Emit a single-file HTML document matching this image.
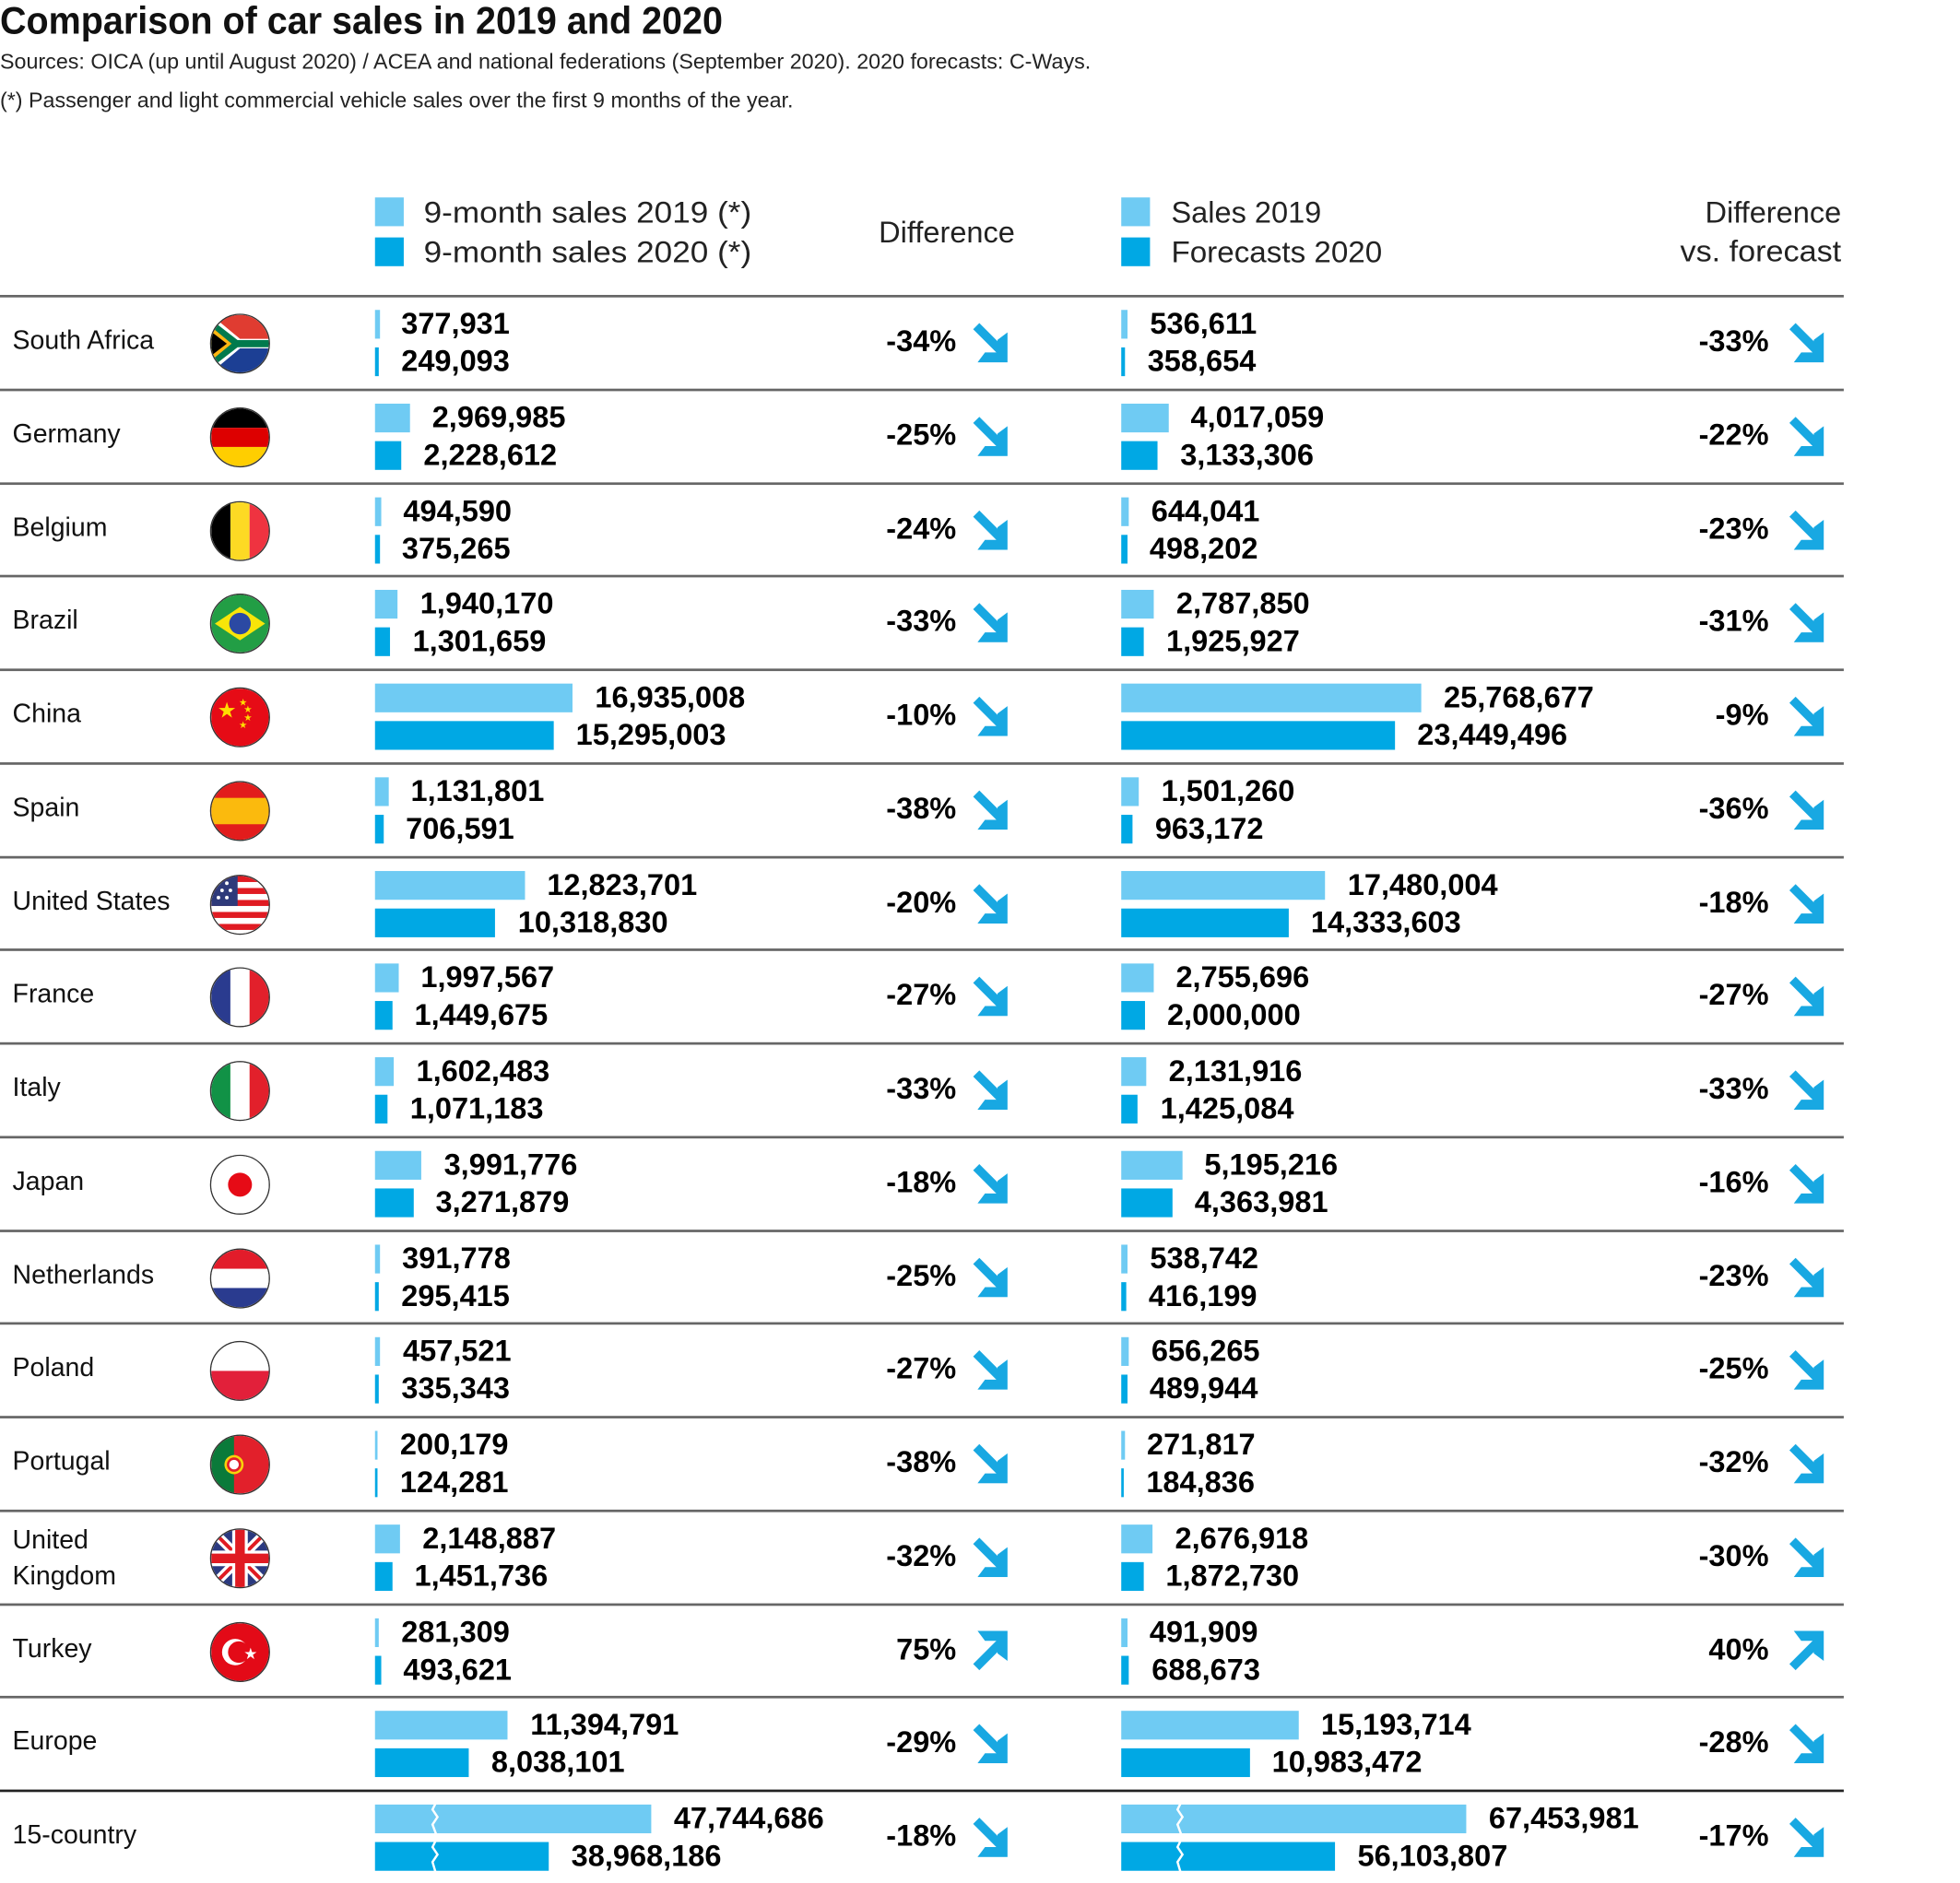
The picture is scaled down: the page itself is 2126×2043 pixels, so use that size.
<!DOCTYPE html>
<html><head><meta charset="utf-8"><style>
html,body{margin:0;padding:0;background:#fff;}
body{width:2126px;height:2043px;overflow:hidden;position:relative;}
#w{position:absolute;left:0;top:0;width:1568px;height:1507px;transform:scale(1.35587);transform-origin:0 0;font-family:"Liberation Sans",sans-serif;color:#111;}
.t{position:absolute;white-space:nowrap;}
.r{position:absolute;left:0;width:1568px;height:75px;border-top:2px solid #666;box-sizing:border-box;}
.r>*{position:absolute;white-space:nowrap;}
.nm{left:10px;top:22px;font-size:21px;line-height:26px;}
.fl{left:168px;top:13px;width:46px;height:46px;border-radius:50%;overflow:hidden;border:1px solid #333;}
.fl svg{display:block;width:46px;height:46px;}
.b1,.c1{top:10px;height:23px;background:#6fcbf3;}
.b2,.c2{top:40px;height:23px;background:#00a8e4;}
.b1,.b2{left:300px;}
.c1,.c2{left:897px;}
b{font-size:24px;line-height:28px;font-weight:bold;color:#000;}
.n1{top:8px;}
.n2{top:38px;}
.p1{right:710px;top:22px;text-align:right;}
.q1{right:60px;top:22px;text-align:right;}
.ar{top:20px;width:32px;height:32px;}
.a1{left:776px;}
.a2{left:1429px;}
.lg{position:absolute;width:23px;height:23px;}
.lt{position:absolute;font-size:24px;line-height:30px;color:#222;white-space:nowrap;}
</style></head><body><div id="w">
<svg width="0" height="0" style="position:absolute"><defs>
<g id="dn"><path d="M5 3 L25 23" stroke="#18a8e2" stroke-width="7" fill="none"/><path d="M30 8 L30 32 L6 32 L12 24 L22 24 L22 14 Z" fill="#18a8e2"/></g>
<g id="up"><path d="M5 29 L25 9" stroke="#18a8e2" stroke-width="7" fill="none"/><path d="M30 24 L30 0 L6 0 L12 8 L22 8 L22 18 Z" fill="#18a8e2"/></g>
</defs></svg>

<div class="t" style="left:0;top:-2px;font-size:31px;font-weight:bold;line-height:38px;transform:scaleX(0.94);transform-origin:0 0;">Comparison of car sales in 2019 and 2020</div>
<div class="t" style="left:0;top:38px;font-size:17px;line-height:24px;color:#222;transform:scaleX(1.01);transform-origin:0 0;">Sources: OICA (up until August 2020) / ACEA and national federations (September 2020). 2020 forecasts: C-Ways.</div>
<div class="t" style="left:0;top:69px;font-size:17px;line-height:24px;color:#222;transform:scaleX(1.01);transform-origin:0 0;">(*) Passenger and light commercial vehicle sales over the first 9 months of the year.</div>

<div class="lg" style="left:300px;top:158px;background:#6fcbf3"></div>
<div class="lg" style="left:300px;top:190px;background:#00a8e4"></div>
<div class="lt" style="left:339px;top:156px;transform:scaleX(1.08);transform-origin:0 0;">9-month sales 2019 (*)</div>
<div class="lt" style="left:339px;top:188px;transform:scaleX(1.08);transform-origin:0 0;">9-month sales 2020 (*)</div>
<div class="lt" style="left:703px;top:172px;">Difference</div>
<div class="lg" style="left:897px;top:158px;background:#6fcbf3"></div>
<div class="lg" style="left:897px;top:190px;background:#00a8e4"></div>
<div class="lt" style="left:937px;top:156px;">Sales 2019</div>
<div class="lt" style="left:937px;top:188px;transform:scaleX(1.02);transform-origin:0 0;">Forecasts 2020</div>
<div class="lt" style="left:1250px;width:223px;text-align:right;top:156px;">Difference</div>
<div class="lt" style="left:1250px;width:223px;text-align:right;top:187px;transform:scaleX(1.05);transform-origin:100% 0;">vs. forecast</div>

<!-- South Africa -->
<div class="r" style="top:236px;width:1475px"><div class="nm">South Africa</div>
<div class="fl"><svg viewBox="0 0 48 48"><rect width="48" height="24" fill="#e03c31"/><rect y="24" width="48" height="24" fill="#1c3f94"/><path d="M0 0 L24 20 H48 V28 H24 L0 48 Z" fill="#fff"/><path d="M0 4 L22 21 H48 V27 H22 L0 44 Z" fill="#007a4d"/><path d="M0 10 L17 24 L0 38 Z" fill="#ffb612"/><path d="M0 14 L13 24 L0 34 Z" fill="#000"/></svg></div>
<i class="b1" style="width:3.5px"></i><i class="b2" style="width:3px"></i><b class="n1" style="left:321px">377,931</b><b class="n2" style="left:321px">249,093</b>
<b class="p1">-34%</b><svg class="ar a1" viewBox="0 0 32 32"><use href="#dn"/></svg>
<i class="c1" style="width:5px"></i><i class="c2" style="width:3.3px"></i><b class="n1" style="left:920px">536,611</b><b class="n2" style="left:918px">358,654</b>
<b class="q1">-33%</b><svg class="ar a2" viewBox="0 0 32 32"><use href="#dn"/></svg></div>

<!-- Germany -->
<div class="r" style="top:310.75px;width:1475px"><div class="nm">Germany</div>
<div class="fl"><svg viewBox="0 0 48 48"><rect width="48" height="16" fill="#000"/><rect y="16" width="48" height="16" fill="#dd0000"/><rect y="32" width="48" height="16" fill="#ffce00"/></svg></div>
<i class="b1" style="width:27.7px"></i><i class="b2" style="width:20.8px"></i><b class="n1" style="left:345.7px">2,969,985</b><b class="n2" style="left:338.8px">2,228,612</b>
<b class="p1">-25%</b><svg class="ar a1" viewBox="0 0 32 32"><use href="#dn"/></svg>
<i class="c1" style="width:37.5px"></i><i class="c2" style="width:29.2px"></i><b class="n1" style="left:952.5px">4,017,059</b><b class="n2" style="left:944.2px">3,133,306</b>
<b class="q1">-22%</b><svg class="ar a2" viewBox="0 0 32 32"><use href="#dn"/></svg></div>

<!-- Belgium -->
<div class="r" style="top:385.5px;width:1475px"><div class="nm">Belgium</div>
<div class="fl"><svg viewBox="0 0 48 48"><rect width="16" height="48" fill="#000"/><rect x="16" width="16" height="48" fill="#fdda24"/><rect x="32" width="16" height="48" fill="#ef3340"/></svg></div>
<i class="b1" style="width:4.6px"></i><i class="b2" style="width:3.5px"></i><b class="n1" style="left:322.6px">494,590</b><b class="n2" style="left:321.5px">375,265</b>
<b class="p1">-24%</b><svg class="ar a1" viewBox="0 0 32 32"><use href="#dn"/></svg>
<i class="c1" style="width:6px"></i><i class="c2" style="width:4.6px"></i><b class="n1" style="left:921px">644,041</b><b class="n2" style="left:919.6px">498,202</b>
<b class="q1">-23%</b><svg class="ar a2" viewBox="0 0 32 32"><use href="#dn"/></svg></div>

<!-- Brazil -->
<div class="r" style="top:460.25px;width:1475px"><div class="nm">Brazil</div>
<div class="fl"><svg viewBox="0 0 48 48"><rect width="48" height="48" fill="#229e45"/><path d="M3 24 L24 10 L45 24 L24 38 Z" fill="#f8e509"/><circle cx="24" cy="24" r="9" fill="#2b49a3"/></svg></div>
<i class="b1" style="width:18.1px"></i><i class="b2" style="width:12.1px"></i><b class="n1" style="left:336.1px">1,940,170</b><b class="n2" style="left:330.1px">1,301,659</b>
<b class="p1">-33%</b><svg class="ar a1" viewBox="0 0 32 32"><use href="#dn"/></svg>
<i class="c1" style="width:26px"></i><i class="c2" style="width:18px"></i><b class="n1" style="left:941px">2,787,850</b><b class="n2" style="left:933px">1,925,927</b>
<b class="q1">-31%</b><svg class="ar a2" viewBox="0 0 32 32"><use href="#dn"/></svg></div>

<!-- China -->
<div class="r" style="top:535px;width:1475px"><div class="nm">China</div>
<div class="fl"><svg viewBox="0 0 48 48"><rect width="48" height="48" fill="#e60b16"/><text x="5" y="24" font-size="18" fill="#ffde00" font-family="DejaVu Sans">★</text><text x="23" y="14" font-size="8" fill="#ffde00" font-family="DejaVu Sans">★</text><text x="27" y="20" font-size="8" fill="#ffde00" font-family="DejaVu Sans">★</text><text x="27" y="27" font-size="8" fill="#ffde00" font-family="DejaVu Sans">★</text><text x="23" y="33" font-size="8" fill="#ffde00" font-family="DejaVu Sans">★</text></svg></div>
<i class="b1" style="width:158px"></i><i class="b2" style="width:142.7px"></i><b class="n1" style="left:476px">16,935,008</b><b class="n2" style="left:460.7px">15,295,003</b>
<b class="p1">-10%</b><svg class="ar a1" viewBox="0 0 32 32"><use href="#dn"/></svg>
<i class="c1" style="width:240px"></i><i class="c2" style="width:218.8px"></i><b class="n1" style="left:1155px">25,768,677</b><b class="n2" style="left:1133.8px">23,449,496</b>
<b class="q1">-9%</b><svg class="ar a2" viewBox="0 0 32 32"><use href="#dn"/></svg></div>

<!-- Spain -->
<div class="r" style="top:609.75px;width:1475px"><div class="nm">Spain</div>
<div class="fl"><svg viewBox="0 0 48 48"><rect width="48" height="48" fill="#e21c1c"/><rect y="13" width="48" height="22" fill="#fbba0d"/></svg></div>
<i class="b1" style="width:10.6px"></i><i class="b2" style="width:6.6px"></i><b class="n1" style="left:328.6px">1,131,801</b><b class="n2" style="left:324.6px">706,591</b>
<b class="p1">-38%</b><svg class="ar a1" viewBox="0 0 32 32"><use href="#dn"/></svg>
<i class="c1" style="width:14px"></i><i class="c2" style="width:9px"></i><b class="n1" style="left:929px">1,501,260</b><b class="n2" style="left:924px">963,172</b>
<b class="q1">-36%</b><svg class="ar a2" viewBox="0 0 32 32"><use href="#dn"/></svg></div>

<!-- United States -->
<div class="r" style="top:684.5px;width:1475px"><div class="nm">United States</div>
<div class="fl"><svg viewBox="0 0 48 48"><rect width="48" height="48" fill="#fff"/><rect y="0" width="48" height="5" fill="#e01b22"/><rect y="10" width="48" height="5" fill="#e01b22"/><rect y="20" width="48" height="5" fill="#e01b22"/><rect y="30" width="48" height="5" fill="#e01b22"/><rect y="40" width="48" height="5" fill="#e01b22"/><rect width="22" height="25" fill="#2e3a7a"/><g fill="#fff"><circle cx="6" cy="6" r="1.5"/><circle cx="13" cy="6" r="1.5"/><circle cx="9" cy="12" r="1.5"/><circle cx="16" cy="12" r="1.5"/><circle cx="6" cy="18" r="1.5"/><circle cx="13" cy="18" r="1.5"/></g></svg></div>
<i class="b1" style="width:119.6px"></i><i class="b2" style="width:96.3px"></i><b class="n1" style="left:437.6px">12,823,701</b><b class="n2" style="left:414.3px">10,318,830</b>
<b class="p1">-20%</b><svg class="ar a1" viewBox="0 0 32 32"><use href="#dn"/></svg>
<i class="c1" style="width:163.1px"></i><i class="c2" style="width:133.7px"></i><b class="n1" style="left:1078.1px">17,480,004</b><b class="n2" style="left:1048.7px">14,333,603</b>
<b class="q1">-18%</b><svg class="ar a2" viewBox="0 0 32 32"><use href="#dn"/></svg></div>

<!-- France -->
<div class="r" style="top:759.25px;width:1475px"><div class="nm">France</div>
<div class="fl"><svg viewBox="0 0 48 48"><rect width="16" height="48" fill="#2a3b8f"/><rect x="16" width="16" height="48" fill="#fff"/><rect x="32" width="16" height="48" fill="#e2202b"/></svg></div>
<i class="b1" style="width:18.6px"></i><i class="b2" style="width:13.5px"></i><b class="n1" style="left:336.6px">1,997,567</b><b class="n2" style="left:331.5px">1,449,675</b>
<b class="p1">-27%</b><svg class="ar a1" viewBox="0 0 32 32"><use href="#dn"/></svg>
<i class="c1" style="width:25.7px"></i><i class="c2" style="width:18.7px"></i><b class="n1" style="left:940.7px">2,755,696</b><b class="n2" style="left:933.7px">2,000,000</b>
<b class="q1">-27%</b><svg class="ar a2" viewBox="0 0 32 32"><use href="#dn"/></svg></div>

<!-- Italy -->
<div class="r" style="top:834px;width:1475px"><div class="nm">Italy</div>
<div class="fl"><svg viewBox="0 0 48 48"><rect width="16" height="48" fill="#119246"/><rect x="16" width="16" height="48" fill="#fff"/><rect x="32" width="16" height="48" fill="#e2202b"/></svg></div>
<i class="b1" style="width:15px"></i><i class="b2" style="width:10px"></i><b class="n1" style="left:333px">1,602,483</b><b class="n2" style="left:328px">1,071,183</b>
<b class="p1">-33%</b><svg class="ar a1" viewBox="0 0 32 32"><use href="#dn"/></svg>
<i class="c1" style="width:19.9px"></i><i class="c2" style="width:13.3px"></i><b class="n1" style="left:934.9px">2,131,916</b><b class="n2" style="left:928.3px">1,425,084</b>
<b class="q1">-33%</b><svg class="ar a2" viewBox="0 0 32 32"><use href="#dn"/></svg></div>

<!-- Japan -->
<div class="r" style="top:908.75px;width:1475px"><div class="nm">Japan</div>
<div class="fl"><svg viewBox="0 0 48 48"><rect width="48" height="48" fill="#fff"/><circle cx="24" cy="24" r="10" fill="#e60b16"/></svg></div>
<i class="b1" style="width:37.2px"></i><i class="b2" style="width:30.5px"></i><b class="n1" style="left:355.2px">3,991,776</b><b class="n2" style="left:348.5px">3,271,879</b>
<b class="p1">-18%</b><svg class="ar a1" viewBox="0 0 32 32"><use href="#dn"/></svg>
<i class="c1" style="width:48.5px"></i><i class="c2" style="width:40.7px"></i><b class="n1" style="left:963.5px">5,195,216</b><b class="n2" style="left:955.7px">4,363,981</b>
<b class="q1">-16%</b><svg class="ar a2" viewBox="0 0 32 32"><use href="#dn"/></svg></div>

<!-- Netherlands -->
<div class="r" style="top:983.5px;width:1475px"><div class="nm">Netherlands</div>
<div class="fl"><svg viewBox="0 0 48 48"><rect width="48" height="16" fill="#e21c2a"/><rect y="16" width="48" height="16" fill="#fff"/><rect y="32" width="48" height="16" fill="#2a3b8f"/></svg></div>
<i class="b1" style="width:3.7px"></i><i class="b2" style="width:3px"></i><b class="n1" style="left:321.7px">391,778</b><b class="n2" style="left:321px">295,415</b>
<b class="p1">-25%</b><svg class="ar a1" viewBox="0 0 32 32"><use href="#dn"/></svg>
<i class="c1" style="width:5px"></i><i class="c2" style="width:3.9px"></i><b class="n1" style="left:920px">538,742</b><b class="n2" style="left:918.9px">416,199</b>
<b class="q1">-23%</b><svg class="ar a2" viewBox="0 0 32 32"><use href="#dn"/></svg></div>

<!-- Poland -->
<div class="r" style="top:1058.25px;width:1475px"><div class="nm">Poland</div>
<div class="fl"><svg viewBox="0 0 48 48"><rect width="48" height="24" fill="#fff"/><rect y="24" width="48" height="24" fill="#e2203a"/></svg></div>
<i class="b1" style="width:4.3px"></i><i class="b2" style="width:3.1px"></i><b class="n1" style="left:322.3px">457,521</b><b class="n2" style="left:321.1px">335,343</b>
<b class="p1">-27%</b><svg class="ar a1" viewBox="0 0 32 32"><use href="#dn"/></svg>
<i class="c1" style="width:6.1px"></i><i class="c2" style="width:4.6px"></i><b class="n1" style="left:921.1px">656,265</b><b class="n2" style="left:919.6px">489,944</b>
<b class="q1">-25%</b><svg class="ar a2" viewBox="0 0 32 32"><use href="#dn"/></svg></div>

<!-- Portugal -->
<div class="r" style="top:1133px;width:1475px"><div class="nm">Portugal</div>
<div class="fl"><svg viewBox="0 0 48 48"><rect width="48" height="48" fill="#e2202b"/><rect width="19" height="48" fill="#0a7a3a"/><circle cx="19" cy="24" r="8" fill="#f8d20a"/><circle cx="19" cy="24" r="5" fill="#fff" stroke="#e2202b" stroke-width="2"/></svg></div>
<i class="b1" style="width:2px"></i><i class="b2" style="width:2px"></i><b class="n1" style="left:320px">200,179</b><b class="n2" style="left:320px">124,281</b>
<b class="p1">-38%</b><svg class="ar a1" viewBox="0 0 32 32"><use href="#dn"/></svg>
<i class="c1" style="width:2.5px"></i><i class="c2" style="width:2px"></i><b class="n1" style="left:917.5px">271,817</b><b class="n2" style="left:917px">184,836</b>
<b class="q1">-32%</b><svg class="ar a2" viewBox="0 0 32 32"><use href="#dn"/></svg></div>

<!-- United Kingdom -->
<div class="r" style="top:1207.75px;width:1475px"><div class="nm" style="top:8px;line-height:29px">United<br>Kingdom</div>
<div class="fl"><svg viewBox="0 0 48 48"><rect width="48" height="48" fill="#2b3a80"/><path d="M0 0 L48 48 M48 0 L0 48" stroke="#fff" stroke-width="8"/><path d="M0 0 L48 48 M48 0 L0 48" stroke="#e01b22" stroke-width="3"/><path d="M24 0 V48 M0 24 H48" stroke="#fff" stroke-width="13"/><path d="M24 0 V48 M0 24 H48" stroke="#e01b22" stroke-width="8"/></svg></div>
<i class="b1" style="width:20px"></i><i class="b2" style="width:13.5px"></i><b class="n1" style="left:338px">2,148,887</b><b class="n2" style="left:331.5px">1,451,736</b>
<b class="p1">-32%</b><svg class="ar a1" viewBox="0 0 32 32"><use href="#dn"/></svg>
<i class="c1" style="width:25px"></i><i class="c2" style="width:17.5px"></i><b class="n1" style="left:940px">2,676,918</b><b class="n2" style="left:932.5px">1,872,730</b>
<b class="q1">-30%</b><svg class="ar a2" viewBox="0 0 32 32"><use href="#dn"/></svg></div>

<!-- Turkey -->
<div class="r" style="top:1282.5px;width:1475px"><div class="nm">Turkey</div>
<div class="fl"><svg viewBox="0 0 48 48"><rect width="48" height="48" fill="#e30a17"/><circle cx="20" cy="24" r="11" fill="#fff"/><circle cx="23" cy="24" r="9" fill="#e30a17"/><text x="27" y="30" font-size="13" fill="#fff" font-family="DejaVu Sans">★</text></svg></div>
<i class="b1" style="width:3px"></i><i class="b2" style="width:4.6px"></i><b class="n1" style="left:321px">281,309</b><b class="n2" style="left:322.6px">493,621</b>
<b class="p1">75%</b><svg class="ar a1" viewBox="0 0 32 32"><use href="#up"/></svg>
<i class="c1" style="width:4.6px"></i><i class="c2" style="width:6.4px"></i><b class="n1" style="left:919.6px">491,909</b><b class="n2" style="left:921.4px">688,673</b>
<b class="q1">40%</b><svg class="ar a2" viewBox="0 0 32 32"><use href="#up"/></svg></div>

<!-- Europe -->
<div class="r" style="top:1357.25px;width:1475px"><div class="nm">Europe</div>
<i class="b1" style="width:106.3px"></i><i class="b2" style="width:75px"></i><b class="n1" style="left:424.3px">11,394,791</b><b class="n2" style="left:393px">8,038,101</b>
<b class="p1">-29%</b><svg class="ar a1" viewBox="0 0 32 32"><use href="#dn"/></svg>
<i class="c1" style="width:141.8px"></i><i class="c2" style="width:102.5px"></i><b class="n1" style="left:1056.8px">15,193,714</b><b class="n2" style="left:1017.5px">10,983,472</b>
<b class="q1">-28%</b><svg class="ar a2" viewBox="0 0 32 32"><use href="#dn"/></svg></div>

<!-- 15-country -->
<div class="r" style="top:1432px;width:1475px;border-top-color:#222"><div class="nm">15-country</div>
<i class="b1" style="width:221px"></i><i class="b2" style="width:139px"></i><b class="n1" style="left:539px">47,744,686</b><b class="n2" style="left:457px">38,968,186</b>
<svg style="left:342px;top:8px;width:12px;height:58px" viewBox="0 0 12 58"><polyline points="7,0 4,6 8,12 4,18 7,26" stroke="#fff" stroke-width="1.8" fill="none"/><polyline points="7,30 4,36 8,42 4,48 7,58" stroke="#fff" stroke-width="1.8" fill="none"/></svg>
<b class="p1">-18%</b><svg class="ar a1" viewBox="0 0 32 32"><use href="#dn"/></svg>
<i class="c1" style="width:276px"></i><i class="c2" style="width:171px"></i><b class="n1" style="left:1191px">67,453,981</b><b class="n2" style="left:1086px">56,103,807</b>
<svg style="left:938px;top:8px;width:12px;height:58px" viewBox="0 0 12 58"><polyline points="7,0 4,6 8,12 4,18 7,26" stroke="#fff" stroke-width="1.8" fill="none"/><polyline points="7,30 4,36 8,42 4,48 7,58" stroke="#fff" stroke-width="1.8" fill="none"/></svg>
<b class="q1">-17%</b><svg class="ar a2" viewBox="0 0 32 32"><use href="#dn"/></svg></div>

</div></body></html>
